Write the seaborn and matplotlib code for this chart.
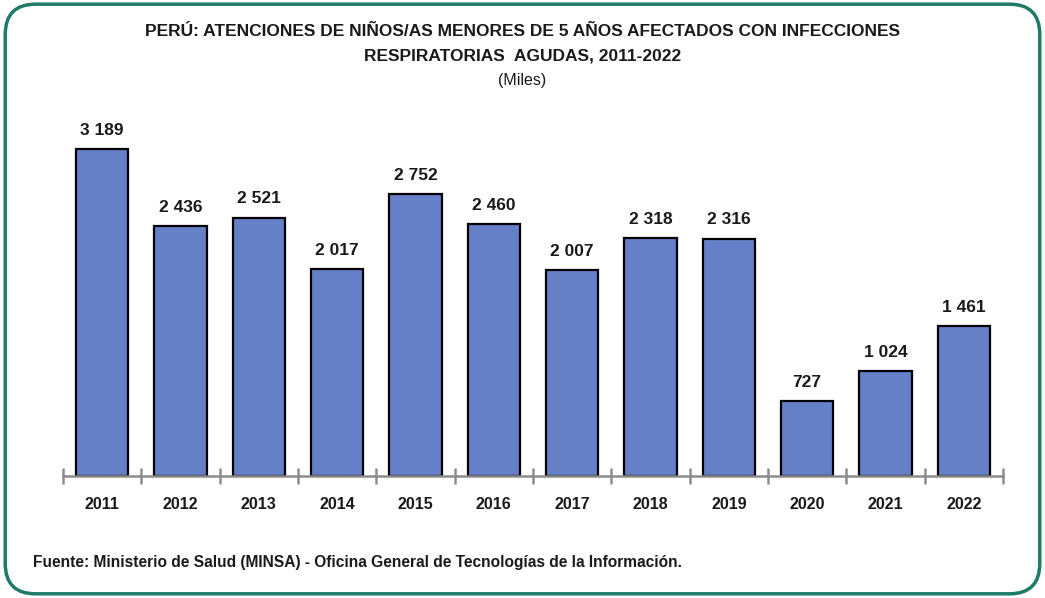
import matplotlib
matplotlib.use("Agg")
import matplotlib.pyplot as plt
from matplotlib.patches import FancyBboxPatch
from matplotlib.ticker import FixedLocator
import seaborn as sns
import pandas as pd

years = ["2011", "2012", "2013", "2014", "2015", "2016",
         "2017", "2018", "2019", "2020", "2021", "2022"]
atenciones = [3189, 2436, 2521, 2017, 2752, 2460, 2007, 2318, 2316, 727, 1024, 1461]

title_lines = ["PERÚ: ATENCIONES DE NIÑOS/AS MENORES DE 5 AÑOS AFECTADOS CON INFECCIONES",
               "RESPIRATORIAS  AGUDAS, 2011-2022"]
subtitle = "(Miles)"
source = "Fuente: Ministerio de Salud (MINSA) - Oficina General de Tecnologías de la Información."

sns.set_theme(style="white")
plt.rcParams["font.family"] = ["Liberation Sans Narrow", "Liberation Sans", "DejaVu Sans"]

df = pd.DataFrame({"year": years, "value": atenciones})

fig = plt.figure(figsize=(10.45, 5.98), dpi=100)
ax = fig.add_axes([0.0603, 0.204, 0.8995, 0.612])

sns.barplot(data=df, x="year", y="value", color="#6680C8", saturation=1,
            edgecolor="black", linewidth=1.6, width=0.67, ax=ax)

labels = [f"{v:,}".replace(",", " ") for v in atenciones]
ax.bar_label(ax.containers[0], labels=labels, padding=8,
             fontsize=12.5, fontweight="bold", color="#1a1a1a")

ax.set_xlim(-0.5, len(years) - 0.5)
ax.set_ylim(0, 3570)
ax.set_xlabel("")
ax.set_ylabel("")
ax.set_yticks([])
for side in ("left", "right", "top"):
    ax.spines[side].set_visible(False)
ax.spines["bottom"].set_color("#8c8c8c")
ax.spines["bottom"].set_linewidth(1.8)

ax.tick_params(axis="x", which="major", length=0, pad=15,
               labelsize=11.5, labelcolor="#1a1a1a")
for t in ax.get_xticklabels():
    t.set_fontweight("bold")
ax.xaxis.set_minor_locator(FixedLocator([i - 0.5 for i in range(len(years) + 1)]))
ax.tick_params(axis="x", which="minor", direction="inout", length=12,
               width=1.8, color="#8c8c8c", bottom=True)

fig.text(0.5, 1 - 31 / 598, title_lines[0], ha="center", va="center", fontsize=12.5,
         fontweight="bold", color="#1a1a1a")
fig.text(0.5, 1 - 56 / 598, title_lines[1], ha="center", va="center", fontsize=12.5,
         fontweight="bold", color="#1a1a1a")
fig.text(0.5, 1 - 80 / 598, subtitle, ha="center", va="center", fontsize=11.5,
         color="#1a1a1a")
fig.text(0.032, 1 - 563 / 598, source, ha="left", va="center", fontsize=11.2,
         fontweight="bold", color="#1a1a1a")

frame = FancyBboxPatch((0.005, 0.007), 0.99, 0.986,
                       boxstyle="round,pad=0,rounding_size=0.029",
                       mutation_aspect=1045 / 598,
                       transform=fig.transFigure, fill=False,
                       edgecolor="#1f7a68", linewidth=2.5, clip_on=False)
fig.patches.append(frame)

fig.savefig("out.png", dpi=100)
